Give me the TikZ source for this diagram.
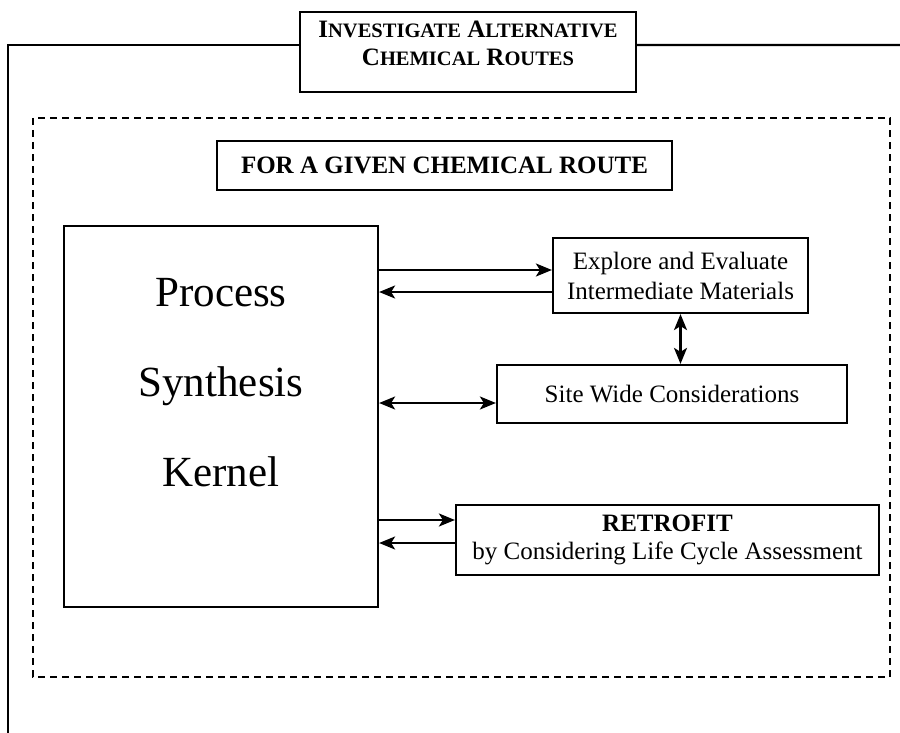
\documentclass[tikz,border=0pt]{standalone}
\usepackage{fontspec}
\setmainfont{Liberation Serif}
\usetikzlibrary{arrows.meta,calc}
% first letter full size, remainder in reduced capitals
\newcommand{\mysc}[2]{#1{\fontsize{20.5bp}{28bp}\selectfont #2}}
\begin{document}
\begin{tikzpicture}[x=1bp,y=-1bp,
  box/.style={draw,line width=2.2bp,inner sep=0pt,align=center},
  txt/.style={font=\fontsize{25bp}{30bp}\selectfont},
  frame/.style={line width=2.2bp},
  arr/.style={line width=2.2bp,-{Stealth[length=16bp,width=13bp,inset=4bp]}},
  darr/.style={line width=2.2bp,{Stealth[length=16bp,width=13bp,inset=4bp]}-{Stealth[length=16bp,width=13bp,inset=4bp]}}]
\useasboundingbox (0,0) rectangle (900,733);

% heading box and the outer frame hanging from it
\node[box,minimum width=336bp,minimum height=80bp] (title) at (468,52) {};
\node[align=center,font=\bfseries\fontsize{25bp}{28bp}\selectfont] (titletext) at (468,43)
  {\mysc{I}{NVESTIGATE} \mysc{A}{LTERNATIVE}\\\mysc{C}{HEMICAL} \mysc{R}{OUTES}};
\draw[frame] ([yshift=7bp]title.west) -| (8,733);
\draw[frame] ([yshift=7bp]title.east) -- (900,45);

% dashed region for a single route
\draw[line width=1.8bp,dash pattern=on 7bp off 5bp] (33,118) rectangle (890,677);

\node[box,minimum width=455bp,minimum height=49bp,
      font=\bfseries\fontsize{25bp}{30bp}\selectfont] (given) at (444.5,165.5)
  {FOR A GIVEN CHEMICAL ROUTE};

% synthesis kernel
\node[box,minimum width=314bp,minimum height=381bp] (kernel) at (221,416.5) {};
\node[align=center,font=\fontsize{43bp}{90bp}\selectfont] (kernelname) at (221,383)
  {Process\\Synthesis\\Kernel};

% satellite tasks
\node[box,txt,minimum width=255bp,minimum height=75bp] (explore) at (680.5,275.5)
  {Explore and Evaluate\\Intermediate Materials};
\node[box,txt,minimum width=350bp,minimum height=58bp] (site) at (672,394)
  {Site Wide Considerations};
\node[box,minimum width=423bp,minimum height=70bp,
      font=\fontsize{25bp}{28bp}\selectfont] (retro) at (667.5,540)
  {\textbf{RETROFIT}\\by Considering Life Cycle Assessment};

% connectors
\draw[arr] ([yshift=5.5bp]explore.west -| kernel.east) -- ([yshift=5.5bp]explore.west);
\draw[arr] ([yshift=-16.5bp]explore.west) -- ([yshift=-16.5bp]explore.west -| kernel.east);
\draw[darr] (explore.south) -- (explore.south |- site.north);
\draw[darr] ([yshift=-9bp]site.west -| kernel.east) -- ([yshift=-9bp]site.west);
\draw[arr] ([yshift=20bp]retro.west -| kernel.east) -- ([yshift=20bp]retro.west);
\draw[arr] ([yshift=-3bp]retro.west) -- ([yshift=-3bp]retro.west -| kernel.east);
\end{tikzpicture}
\end{document}
